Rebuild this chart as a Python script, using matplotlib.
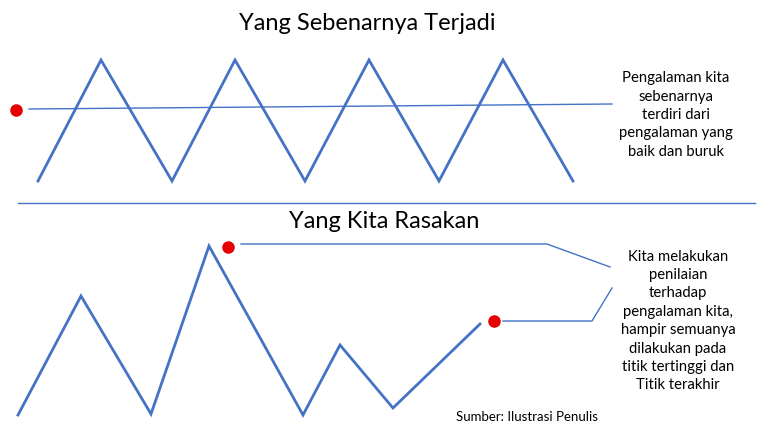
import matplotlib
matplotlib.use("Agg")
import matplotlib.pyplot as plt

plt.rcParams['font.family'] = ['Lato', 'DejaVu Sans']

BLUE = '#4472C4'
W, H = 770, 433

# top panel: what actually happens (pixel coords, y down)
top_x = [38, 101, 172, 235, 305, 369, 439, 503, 573]
top_y = [181, 60, 181, 60, 181, 60, 181, 60, 181]
avg_x = [29, 612]
avg_y = [109, 104]
avg_dot = (16, 110)

# bottom panel: what we feel
bot_x = [18, 81, 151, 209, 303, 340, 393, 480]
bot_y = [415, 296, 414, 246, 415, 345, 408, 324]
peak_dot = (228, 247)
end_dot = (494, 321)
peak_link_x = [241, 547, 610]
peak_link_y = [244, 244, 267]
end_link_x = [503, 592, 612]
end_link_y = [321, 321, 288]

sep_x = [18, 755]
sep_y = [203, 203]

title_top = "Yang Sebenarnya Terjadi"
title_bot = "Yang Kita Rasakan"
note_top = "Pengalaman kita\nsebenarnya\nterdiri dari\npengalaman yang\nbaik dan buruk"
note_bot = ("Kita melakukan\npenilaian\nterhadap\npengalaman kita,\n"
            "hampir semuanya\ndilakukan pada\ntitik tertinggi dan\nTitik terakhir")
source = "Sumber: Ilustrasi Penulis"

fig = plt.figure(figsize=(W / 100, H / 100), dpi=100)
ax = fig.add_axes([0, 0, 1, 1])
ax.set_xlim(0, W)
ax.set_ylim(H, 0)
ax.axis('off')

ax.plot(top_x, top_y, color=BLUE, lw=2.0, solid_joinstyle='miter')
ax.plot(avg_x, avg_y, color=BLUE, lw=1.0)
ax.plot(*avg_dot, 'o', color='#E60000', ms=8)

ax.plot(sep_x, sep_y, color=BLUE, lw=1.0)

ax.plot(bot_x, bot_y, color=BLUE, lw=2.0, solid_joinstyle='miter')
ax.plot(peak_link_x, peak_link_y, color=BLUE, lw=1.0)
ax.plot(end_link_x, end_link_y, color=BLUE, lw=1.0)
ax.plot(*peak_dot, 'o', color='#E60000', ms=8)
ax.plot(*end_dot, 'o', color='#E60000', ms=8)

ax.text(367, 24, title_top, fontsize=17, ha='center', va='center')
ax.text(384, 222, title_bot, fontsize=17, ha='center', va='center')
ax.text(676, 115, note_top, fontsize=10.7, ha='center', va='center', linespacing=1.4)
ax.text(678, 321, note_bot, fontsize=10.7, ha='center', va='center', linespacing=1.4)
ax.text(527, 417, source, fontsize=9.5, ha='center', va='center')

fig.savefig('out.png', dpi=100)
